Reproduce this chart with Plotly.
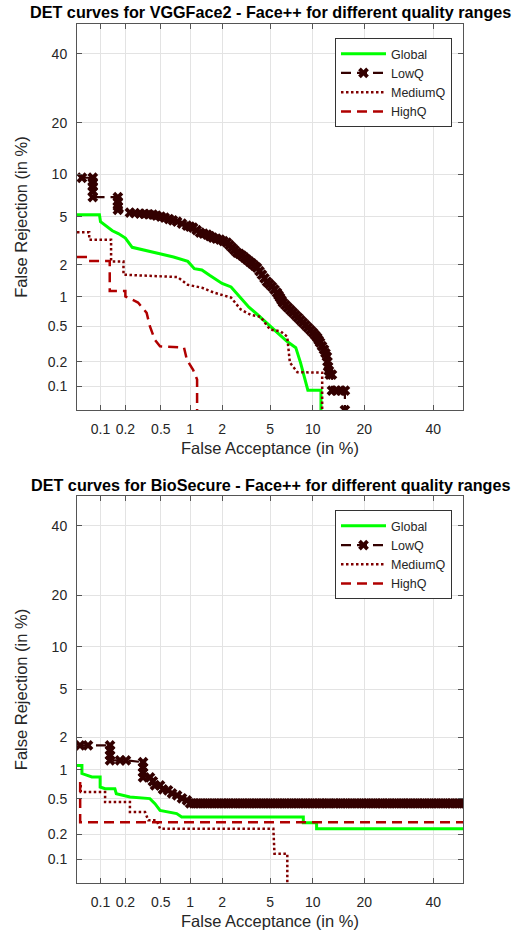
import plotly.graph_objects as go
from statistics import NormalDist

_nd = NormalDist()


def probit(values):
    return [_nd.inv_cdf(v / 100.0) for v in values]


# ---------------- axis ticks ----------------
tick_values = [0.1, 0.2, 0.5, 1, 2, 5, 10, 20, 40]
tick_labels = ["0.1", "0.2", "0.5", "1", "2", "5", "10", "20", "40"]
axis_limits = [0.05, 50]

# ---------------- VGGFace2 panel (FA %, FR %) ----------------
vgg_global_fa = [0.05, 0.097, 0.10, 0.12, 0.14, 0.165, 0.20, 0.24, 0.30, 0.40, 0.50, 0.68, 0.95, 1.1, 1.3,
                 1.55, 2.0, 2.4, 2.8, 3.4, 4.0, 4.8, 5.7, 6.7, 7.7, 8.3, 9.3, 11.3, 11.3]
vgg_global_fr = [5.2, 5.2, 4.6, 4.2, 3.9, 3.7, 3.4, 2.85, 2.75, 2.6, 2.5, 2.35, 2.15, 1.85, 1.8,
                 1.6, 1.35, 1.25, 1.02, 0.79, 0.66, 0.53, 0.43, 0.34, 0.29, 0.195, 0.09, 0.09, 0.05]

vgg_lowq_fa = [0.058, 0.08, 0.08, 0.08, 0.08, 0.08, 0.163, 0.163, 0.163, 0.163,
               0.226, 0.258, 0.295, 0.33, 0.37, 0.41, 0.45, 0.50, 0.55, 0.61, 0.67, 0.74, 0.83, 0.93,
               1.0, 1.07, 1.16, 1.25, 1.35, 1.46, 1.55, 1.65, 1.78, 1.92, 2.06, 2.21, 2.33, 2.45, 2.57,
               2.70, 2.84, 2.98, 3.13, 3.28, 3.44, 3.60, 3.77, 3.95, 4.14, 4.33, 4.53, 4.74, 4.95, 5.17,
               5.40, 5.64, 5.79, 5.94, 6.09, 6.25, 6.52, 6.79, 7.08, 7.37, 7.67, 7.98, 8.30, 8.63, 8.97,
               9.32, 9.68, 10.05, 10.37, 10.7, 10.92, 11.15, 11.47, 11.8, 12.05, 12.3, 12.4, 12.5, 12.65,
               12.8, 13.2, 13.2, 14.0, 14.9, 15.7, 15.7]
vgg_lowq_fr = [9.5, 9.5, 8.9, 8.3, 7.7, 7.0, 7.0, 6.5, 6.0, 5.65,
               5.39, 5.35, 5.30, 5.28, 5.24, 5.21, 5.12, 5.03, 4.94, 4.82, 4.71, 4.60, 4.44, 4.28,
               4.2, 4.13, 3.95, 3.77, 3.70, 3.63, 3.53, 3.43, 3.36, 3.30, 3.21, 3.12, 2.97, 2.83, 2.70,
               2.57, 2.50, 2.42, 2.32, 2.23, 2.14, 2.06, 1.97, 1.89, 1.76, 1.63, 1.51, 1.40, 1.33, 1.26,
               1.18, 1.10, 1.04, 0.985, 0.93, 0.877, 0.826, 0.78, 0.735, 0.694, 0.654, 0.617, 0.58, 0.546, 0.513,
               0.483, 0.453, 0.426, 0.40, 0.376, 0.352, 0.331, 0.302, 0.276, 0.251, 0.229, 0.20, 0.175, 0.156,
               0.14, 0.14, 0.089, 0.089, 0.089, 0.089, 0.05]

vgg_medq_fa = [0.05, 0.072, 0.072, 0.135, 0.135, 0.19, 0.19, 0.75, 0.95, 1.3, 1.7, 2.4, 2.9, 3.5, 4.2,
               5.0, 6.0, 6.7, 7.0, 7.9, 11.5, 11.5]
vgg_medq_fr = [3.8, 3.8, 3.3, 3.3, 2.15, 2.15, 1.63, 1.55, 1.31, 1.23, 1.10, 0.985, 0.75, 0.66, 0.63,
               0.46, 0.44, 0.385, 0.195, 0.15, 0.148, 0.05]

vgg_highq_fa = [0.05, 0.065, 0.065, 0.13, 0.13, 0.2, 0.2, 0.28, 0.35, 0.38, 0.43, 0.49, 0.87, 0.93, 1.07,
                1.17, 1.17]
vgg_highq_fr = [2.35, 2.35, 2.17, 2.17, 1.14, 1.14, 1.01, 0.88, 0.69, 0.50, 0.357, 0.30, 0.29, 0.21, 0.16,
                0.122, 0.05]

# ---------------- BioSecure panel (FA %, FR %) ----------------
bio_global_fa = [0.05, 0.058, 0.058, 0.078, 0.099, 0.099, 0.114, 0.150, 0.156, 0.198, 0.226, 0.38, 0.432,
                 0.49, 0.733, 0.824, 8.67, 8.67, 10.6, 10.6, 50]
bio_global_fr = [1.10, 1.10, 0.914, 0.845, 0.845, 0.667, 0.642, 0.642, 0.569, 0.546, 0.524, 0.504, 0.445,
                 0.376, 0.346, 0.317, 0.317, 0.274, 0.274, 0.234, 0.234]

bio_lowq_fa = [0.0547, 0.0695, 0.131, 0.131, 0.131, 0.131, 0.173, 0.203, 0.319, 0.319, 0.319, 0.319, 0.381,
               0.41, 0.433, 0.49, 0.527, 0.596, 0.656, 0.74, 0.83, 0.93, 1.0,
               1.08, 1.17, 1.26, 1.36, 1.47, 1.59, 1.71, 1.84, 1.98, 2.12, 2.28, 2.45, 2.62, 2.81, 3.01,
               3.22, 3.44, 3.67, 3.92, 4.18, 4.45, 4.74, 5.04, 5.36, 5.69, 6.04, 6.41, 6.79, 7.19, 7.61,
               8.04, 8.50, 8.97, 9.46, 9.98, 10.5, 11.06, 11.6, 12.2, 12.8, 13.5, 14.1, 14.8, 15.5, 16.2,
               17.0, 17.75, 18.5, 19.35, 20.2, 21.0, 21.9, 22.8, 23.7, 24.6, 25.6, 26.5, 27.5, 28.5, 29.6,
               30.6, 31.7, 32.7, 33.8, 34.9, 36.0, 37.1, 38.3, 39.4, 40.6, 41.7, 42.9, 44.1, 45.3, 46.4,
               47.6, 48.8, 50.0]
bio_lowq_fr = [1.70, 1.70, 1.70, 1.53, 1.375, 1.23, 1.23, 1.23, 1.18, 1.05, 0.94, 0.838, 0.838,
               0.764, 0.694, 0.694, 0.631, 0.617, 0.573, 0.546, 0.508, 0.483, 0.448,
               0.448, 0.448, 0.448, 0.448, 0.448, 0.448, 0.448, 0.448, 0.448, 0.448, 0.448, 0.448, 0.448,
               0.448, 0.448, 0.448, 0.448, 0.448, 0.448, 0.448, 0.448, 0.448, 0.448, 0.448, 0.448, 0.448,
               0.448, 0.448, 0.448, 0.448, 0.448, 0.448, 0.448, 0.448, 0.448, 0.448, 0.448, 0.448, 0.448,
               0.448, 0.448, 0.448, 0.448, 0.448, 0.448, 0.448, 0.448, 0.448, 0.448, 0.448, 0.448, 0.448,
               0.448, 0.448, 0.448, 0.448, 0.448, 0.448, 0.448, 0.448, 0.448, 0.448, 0.448, 0.448, 0.448,
               0.448, 0.448, 0.448, 0.448, 0.448, 0.448, 0.448, 0.448, 0.448, 0.448, 0.448, 0.448, 0.448,
               0.448]

bio_medq_fa = [0.056, 0.056, 0.114, 0.114, 0.226, 0.226, 0.336, 0.365, 0.451, 0.49, 5.3, 5.4, 6.45, 6.71, 6.71]
bio_medq_fr = [0.70, 0.592, 0.592, 0.463, 0.463, 0.36, 0.36, 0.291, 0.291, 0.234, 0.234, 0.1176, 0.1176,
               0.1176, 0.05]

bio_highq_fa = [0.055, 0.055, 50]
bio_highq_fr = [0.75, 0.277, 0.277]

series_names = ["Global", "LowQ", "MediumQ", "HighQ"]
titles = ["DET curves for VGGFace2 - Face++ for different quality ranges",
          "DET curves for BioSecure - Face++ for different quality ranges"]
x_title = "False Acceptance (in %)"
y_title = "False Rejection (in %)"

# ---------------- styles ----------------
FONT = "Liberation Sans, Arial, sans-serif"
TXT = "#262626"
C_GLOBAL = "#00ff00"
C_LOW = "#330000"
C_MED = "#800000"
C_HIGH = "#b00000"

fig = go.Figure()

panels = [
    ("x", "y", "legend", [(vgg_global_fa, vgg_global_fr), (vgg_lowq_fa, vgg_lowq_fr),
                          (vgg_medq_fa, vgg_medq_fr), (vgg_highq_fa, vgg_highq_fr)]),
    ("x2", "y2", "legend2", [(bio_global_fa, bio_global_fr), (bio_lowq_fa, bio_lowq_fr),
                             (bio_medq_fa, bio_medq_fr), (bio_highq_fa, bio_highq_fr)]),
]

for xa, ya, leg, data in panels:
    (gfa, gfr), (lfa, lfr), (mfa, mfr), (hfa, hfr) = data
    fig.add_trace(go.Scatter(x=probit(gfa), y=probit(gfr), mode="lines", name=series_names[0],
                             line=dict(color=C_GLOBAL, width=3), xaxis=xa, yaxis=ya, legend=leg))
    fig.add_trace(go.Scatter(x=probit(lfa), y=probit(lfr), mode="lines+markers", name=series_names[1],
                             line=dict(color=C_LOW, width=2.2, dash="10px,6px"),
                             marker=dict(symbol="x", size=9.5, color=C_LOW, line=dict(width=0)),
                             xaxis=xa, yaxis=ya, legend=leg))
    fig.add_trace(go.Scatter(x=probit(mfa), y=probit(mfr), mode="lines", name=series_names[2],
                             line=dict(color=C_MED, width=2.5, dash="2.5px,2.5px"),
                             xaxis=xa, yaxis=ya, legend=leg))
    fig.add_trace(go.Scatter(x=probit(hfa), y=probit(hfr), mode="lines", name=series_names[3],
                             line=dict(color=C_HIGH, width=2.5, dash="10px,6px"),
                             xaxis=xa, yaxis=ya, legend=leg))

rng = probit(axis_limits)
tv = probit(tick_values)

axis_common = dict(
    range=rng, tickmode="array", tickvals=tv, ticktext=tick_labels, automargin=False,
    showgrid=True, gridcolor="#e3e3e3", gridwidth=1,
    showline=True, linecolor="#555555", linewidth=1, mirror="allticks",
    ticks="inside", ticklen=5, tickcolor="#555555",
    tickfont=dict(family=FONT, size=14, color=TXT), zeroline=False,
    title_font=dict(family=FONT, size=16.5, color=TXT),
)

top_domain = [0.5506, 1.0]
bot_domain = [0.0, 0.4505]

legend_common = dict(x=0.9715, xanchor="right", yanchor="top",
                     bgcolor="white", bordercolor="#333333", borderwidth=1,
                     font=dict(family=FONT, size=12.5, color=TXT), itemwidth=45,
                     tracegroupgap=0)

fig.update_layout(
    width=522, height=932,
    margin=dict(l=77, r=59, t=24, b=49, autoexpand=False),
    paper_bgcolor="white", plot_bgcolor="white",
    font=dict(family=FONT, color=TXT),
    xaxis=dict(axis_common, domain=[0, 1], anchor="y", ticklabelstandoff=6,
               title=dict(text=x_title, standoff=6)),
    yaxis=dict(axis_common, domain=top_domain, anchor="x", ticklabelstandoff=6,
               title=dict(text=y_title, standoff=15)),
    xaxis2=dict(axis_common, domain=[0, 1], anchor="y2", ticklabelstandoff=6,
                title=dict(text=x_title, standoff=6)),
    yaxis2=dict(axis_common, domain=bot_domain, anchor="x2", ticklabelstandoff=6,
                title=dict(text=y_title, standoff=15)),
    legend=dict(legend_common, y=0.9837),
    legend2=dict(legend_common, y=0.434),
    annotations=[
        dict(text="<b>" + titles[0] + "</b>", x=0.5, y=1.014, xref="paper", yref="paper",
             xanchor="center", yanchor="middle", showarrow=False,
             font=dict(family=FONT, size=16.2, color="black")),
        dict(text="<b>" + titles[1] + "</b>", x=0.5, y=0.4633, xref="paper", yref="paper",
             xanchor="center", yanchor="middle", showarrow=False,
             font=dict(family=FONT, size=16.2, color="black")),
    ],
)

fig.write_html("out.html", config={"displayModeBar": False},
               post_script="document.body.style.margin='0';document.body.style.overflow='hidden';")
